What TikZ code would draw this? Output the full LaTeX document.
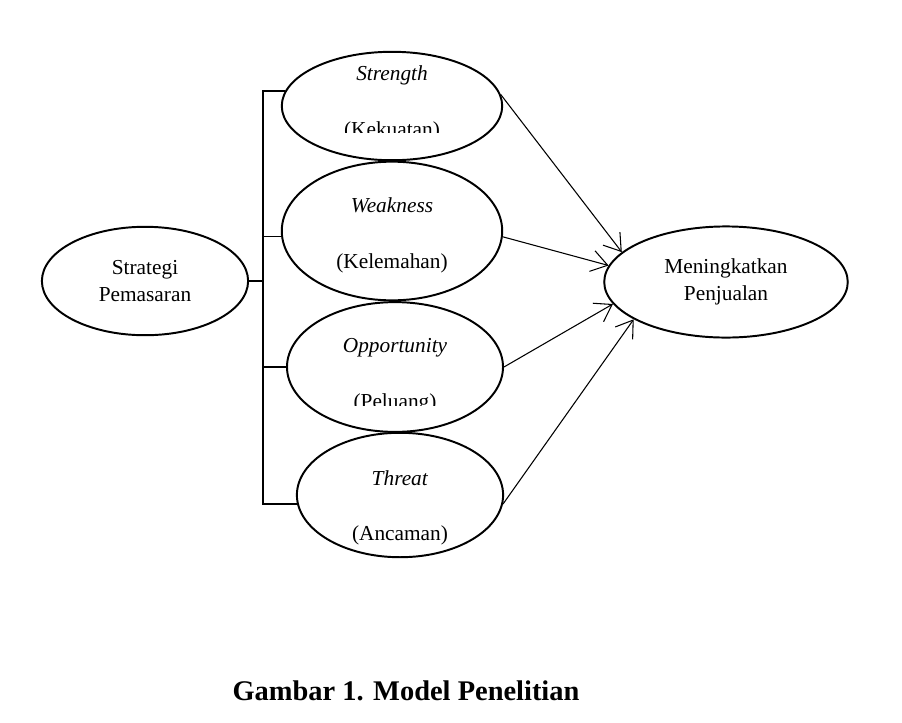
\documentclass[tikz,border=0pt]{standalone}
\usepackage{fontspec}
\setmainfont{Liberation Serif}
\usetikzlibrary{shapes.geometric, arrows.meta}

\begin{document}
\begin{tikzpicture}[
    x=0.5625pt, y=-0.5625pt,
    every node/.style={font=\fontsize{12}{15}\selectfont},
    oval/.style={ellipse, draw, line width=1.1pt, inner sep=0pt, align=center},
    link/.style={line width=0.6pt},
    arrow/.style={-{Straight Barb[length=9pt, width=12pt]}, line width=0.6pt}
]

\path[fill=white] (0,0) rectangle (902,722);

\node[oval, minimum width=116pt, minimum height=61pt] (strategi) at (145,281) {Strategi\\Pemasaran};

\node[oval, minimum width=124pt, minimum height=61pt] (strength) at (392,106) {};
\node[oval, minimum width=124pt, minimum height=78pt] (weakness) at (392,231) {};
\node[oval, minimum width=121.5pt, minimum height=73pt] (opportunity) at (395,367) {};
\node[oval, minimum width=116pt, minimum height=70pt] (threat) at (400,495) {};

\node[oval, minimum width=137pt, minimum height=62.5pt] (goal) at (726,282) {Meningkatkan\\Penjualan};

\node[anchor=base] (strength-en) at (392,80) {\textit{Strength}};
\node[anchor=base] (weakness-en) at (392,212) {\textit{Weakness}};
\node[anchor=base] (weakness-id) at (392,268) {(Kelemahan)};
\node[anchor=base] (opportunity-en) at (395,352) {\textit{Opportunity}};
\node[anchor=base] (threat-en) at (400,485.5) {\textit{Threat}};
\node[anchor=base] (threat-id) at (400,540.5) {(Ancaman)};

\begin{scope}
  \clip (300,110) rectangle (490,132.3);
  \node[anchor=base] (strength-id) at (392,136) {(Kekuatan)};
\end{scope}
\begin{scope}
  \clip (300,380) rectangle (490,405);
  \node[anchor=base] (opportunity-id) at (395,408.3) {(Peluang)};
\end{scope}

\coordinate (spine) at (263,282);
\draw[link] (strategi.east) -- (strategi.east -| spine);
\draw[link] (strength.172.5) -- (strength.172.5 -| spine) -- (threat.185 -| spine) -- (threat.185);
\draw[link] (weakness.183) -- (weakness.183 -| spine);
\draw[link] (opportunity.west) -- (opportunity.west -| spine);

\draw[arrow] (strength.6) -- (goal.164);
\draw[arrow] (weakness.-3) -- (goal.172.5);
\draw[arrow] (opportunity.east) -- (goal.191);
\draw[arrow] (threat.-5) -- (goal.202.5);

\node[anchor=base, font=\fontsize{16}{19}\selectfont\bfseries] (caption) at (406,700) {Gambar 1. Model Penelitian};

\end{tikzpicture}
\end{document}
